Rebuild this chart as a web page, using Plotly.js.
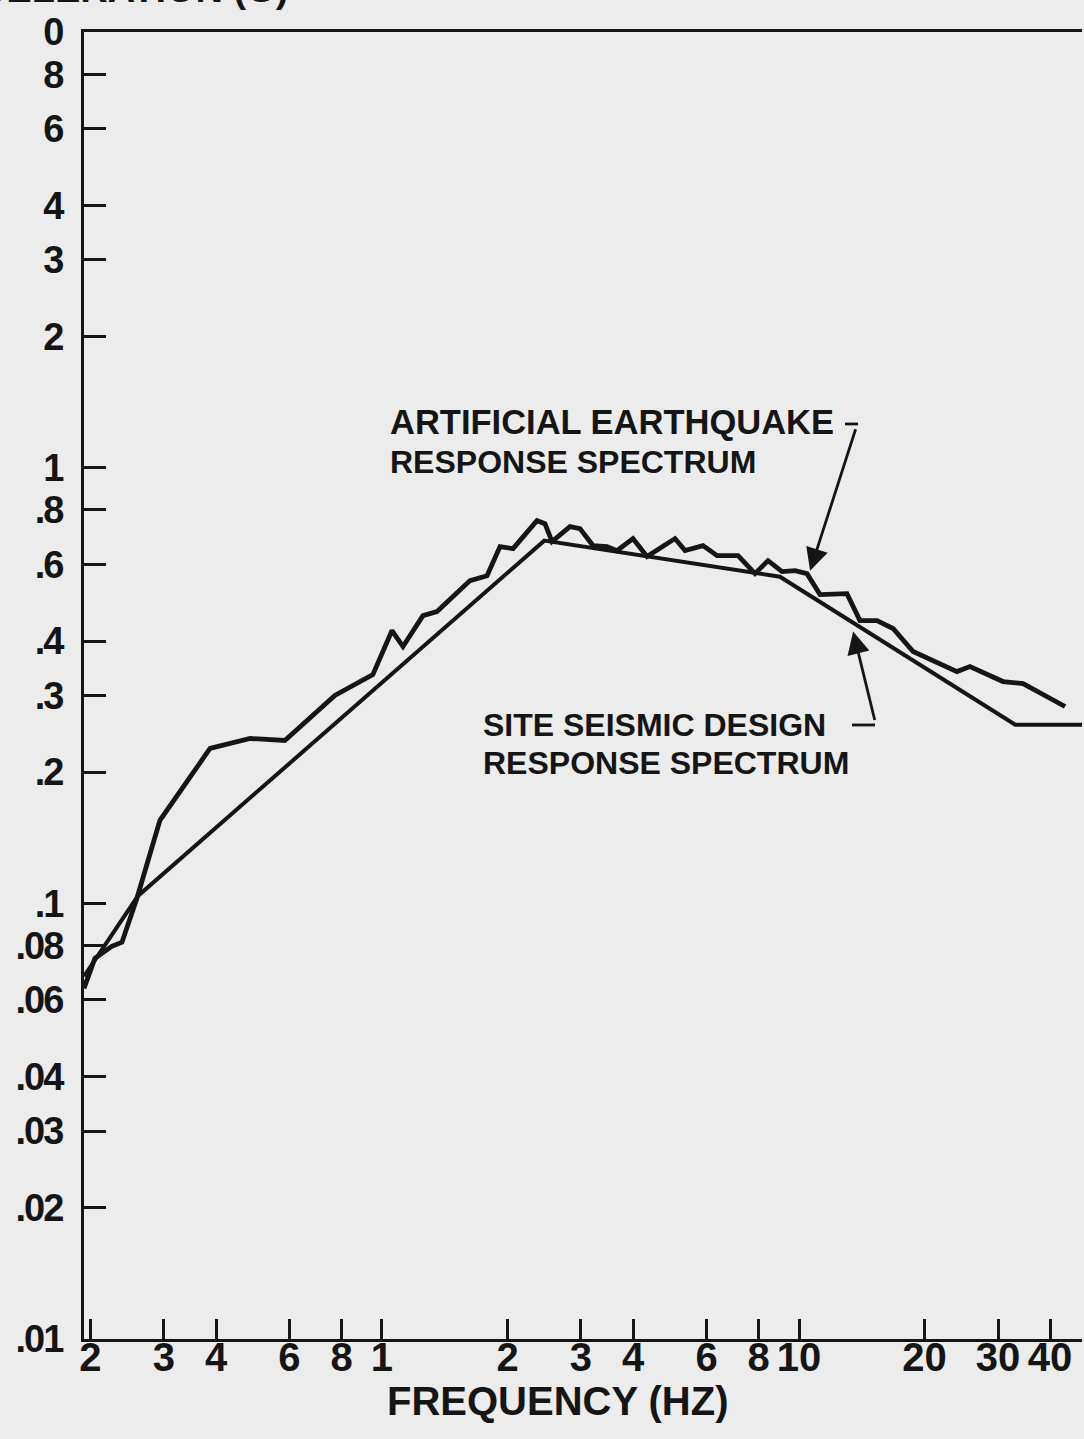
<!DOCTYPE html>
<html>
<head>
<meta charset="utf-8">
<script src="https://cdn.plot.ly/plotly-3.0.1.min.js"></script>
<style>
  html, body { margin: 0; padding: 0; background: #ececec; overflow: hidden; }
  #chart { width: 1084px; height: 1439px; }
  /* tight, heavy tick numerals */
  #chart .ytick text { letter-spacing: -2px; }
</style>
</head>
<body>
<div id="chart"></div>
<script>
// Response spectrum of the artificial earthquake record: frequency (Hz) and acceleration (g)
const artFreq = [0.193, 0.205, 0.225, 0.238, 0.2585, 0.2935, 0.387, 0.483, 0.585, 0.771,
  0.951, 1.057, 1.123, 1.254, 1.355, 1.626, 1.786, 1.919, 2.062, 2.353,
  2.459, 2.557, 2.824, 2.984, 3.206, 3.464, 3.66, 3.998, 4.32, 4.826,
  5.043, 5.33, 5.886, 6.361, 7.141, 7.844, 8.426, 9.105, 9.781, 10.45,
  11.23, 13.03, 14.0, 15.38, 16.81, 18.77, 23.92, 25.7, 30.84, 34.45, 43.44];
const artAccel = [0.0638, 0.0748, 0.0797, 0.0814, 0.1027, 0.155, 0.2267, 0.239, 0.2365, 0.300,
  0.335, 0.4228, 0.3886, 0.4576, 0.4673, 0.5505, 0.565, 0.659, 0.652, 0.7556,
  0.7438, 0.6765, 0.7321, 0.7245, 0.6625, 0.659, 0.645, 0.6875, 0.625, 0.6695,
  0.6875, 0.645, 0.6625, 0.6283, 0.6283, 0.5712, 0.6118, 0.5772, 0.5802, 0.5712,
  0.5113, 0.514, 0.4457, 0.4457, 0.4273, 0.3784, 0.3404, 0.3496, 0.3229, 0.3195, 0.283];

// Site seismic design response spectrum corner points
const designFreq = [0.193, 0.26, 2.45, 9.0, 33.0, 47.7];
const designAccel = [0.068, 0.104, 0.68, 0.562, 0.257, 0.257];

// Axis ticks
const xTickVals = [0.2, 0.3, 0.4, 0.6, 0.8, 1, 2, 3, 4, 6, 8, 10, 20, 30, 40];
const xTickText = ['2', '3', '4', '6', '8', '1', '2', '3', '4', '6', '8', '10', '20', '30', '40'];
const yTickVals = [10, 8, 6, 4, 3, 2, 1, 0.8, 0.6, 0.4, 0.3, 0.2, 0.1, 0.08, 0.06, 0.04, 0.03, 0.02, 0.01];
const yTickText = ['0', '8', '6', '4', '3', '2', '1', '.8', '.6', '.4', '.3', '.2', '.1', '.08', '.06', '.04', '.03', '.02', '.01'];

const ink = '#151515';
const bg = '#ececec';
const fontFamily = '"Liberation Sans", Arial, Helvetica, sans-serif';

const traces = [
  {
    x: designFreq, y: designAccel, type: 'scatter', mode: 'lines',
    line: { color: ink, width: 4 }, hoverinfo: 'skip', showlegend: false
  },
  {
    x: artFreq, y: artAccel, type: 'scatter', mode: 'lines',
    line: { color: ink, width: 4.8, shape: 'linear' }, hoverinfo: 'skip', showlegend: false
  }
];

const labelFont = { family: fontFamily, size: 32, color: ink, weight: 'bold' };

const layout = {
  width: 1084, height: 1439,
  margin: { l: 84, r: 2, t: 32, b: 100, pad: 0 },
  paper_bgcolor: bg, plot_bgcolor: bg,
  showlegend: false,
  xaxis: {
    type: 'log', range: [Math.log10(0.193), Math.log10(47.7)],
    tickmode: 'array', tickvals: xTickVals, ticktext: xTickText,
    ticks: 'inside', ticklen: 20, tickwidth: 3, tickcolor: ink,
    showline: true, linewidth: 3, linecolor: ink, mirror: true,
    showgrid: false, zeroline: false,
    ticklabelstandoff: -19,
    tickfont: { family: fontFamily, size: 40, color: ink, weight: 'bold' }
  },
  yaxis: {
    type: 'log', range: [-2, 1],
    tickmode: 'array', tickvals: yTickVals, ticktext: yTickText,
    ticks: 'inside', ticklen: 22, tickwidth: 3, tickcolor: ink,
    showline: true, linewidth: 3, linecolor: ink, mirror: false,
    showgrid: false, zeroline: false,
    ticklabelstandoff: 11,
    tickfont: { family: fontFamily, size: 38, color: ink, weight: 'bold' }
  },
  annotations: [
    // y-axis title, running off the top edge of the page
    { text: 'ACCELERATION (G)', xref: 'paper', yref: 'paper', x: 0.2074, y: 1.0150,
      xanchor: 'right', yanchor: 'bottom', showarrow: false,
      font: { family: fontFamily, size: 38, color: ink, weight: 'bold' } },
    // x-axis title
    { text: 'FREQUENCY (HZ)', xref: 'paper', yref: 'paper', x: 0.474, y: -0.0472,
      xanchor: 'center', yanchor: 'middle', showarrow: false,
      font: { family: fontFamily, size: 40, color: ink, weight: 'bold' } },
    // curve labels
    { text: 'ARTIFICIAL EARTHQUAKE', xref: 'paper', yref: 'paper', x: 0.3046, y: 0.7016,
      xanchor: 'left', yanchor: 'middle', showarrow: false,
      font: { family: fontFamily, size: 34.5, color: ink, weight: 'bold' } },
    { text: 'RESPONSE SPECTRUM', xref: 'paper', yref: 'paper', x: 0.3046, y: 0.671,
      xanchor: 'left', yanchor: 'middle', showarrow: false, font: labelFont },
    { text: 'SITE SEISMIC DESIGN', xref: 'paper', yref: 'paper', x: 0.3978, y: 0.4698,
      xanchor: 'left', yanchor: 'middle', showarrow: false, font: labelFont },
    { text: 'RESPONSE SPECTRUM', xref: 'paper', yref: 'paper', x: 0.3978, y: 0.4407,
      xanchor: 'left', yanchor: 'middle', showarrow: false, font: labelFont },
    // leader arrows pointing at each curve
    { text: '', x: Math.log10(10.63), y: Math.log10(0.580), xref: 'x', yref: 'y',
      showarrow: true, ax: 46, ay: -143, axref: 'pixel', ayref: 'pixel',
      arrowhead: 2, arrowsize: 1.6, arrowwidth: 2.8, arrowcolor: ink, standoff: 0 },
    { text: '', x: Math.log10(13.48), y: Math.log10(0.4207), xref: 'x', yref: 'y',
      showarrow: true, ax: 22, ay: 90, axref: 'pixel', ayref: 'pixel',
      arrowhead: 2, arrowsize: 1.6, arrowwidth: 2.8, arrowcolor: ink, standoff: 0 }
  ],
  shapes: [
    { type: 'line', xref: 'paper', yref: 'paper', x0: 0.7625, x1: 0.7756, y0: 0.7001, y1: 0.7001,
      line: { color: ink, width: 2.8 } },
    { type: 'line', xref: 'paper', yref: 'paper', x0: 0.7695, x1: 0.7926, y0: 0.4698, y1: 0.4698,
      line: { color: ink, width: 2.8 } }
  ]
};

Plotly.newPlot('chart', traces, layout, { displayModeBar: false, staticPlot: true });
</script>
</body>
</html>
